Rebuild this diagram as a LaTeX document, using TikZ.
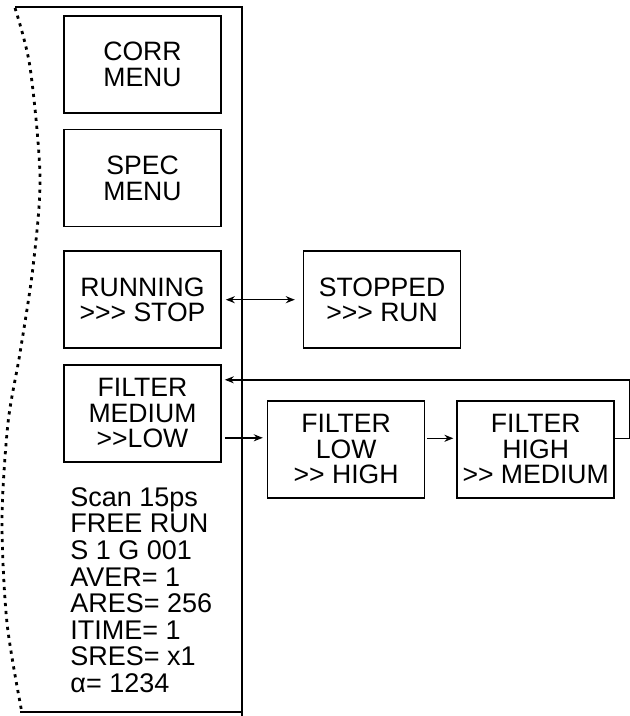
\documentclass[tikz,border=0pt]{standalone}
\usepackage{fontspec}
\setmainfont{Liberation Sans}[Ligatures=TeXOff]
\usetikzlibrary{arrows.meta,positioning,calc}

\begin{document}
\begin{tikzpicture}[
  x=0.5pt, y=-0.5pt,
  box/.style={rectangle, draw, line width=0.8pt, minimum width=78.5pt,
              minimum height=48.5pt, align=center, inner sep=1pt,
              font=\fontsize{13.3}{12.8}\selectfont},
  link/.style={line width=0.8pt},
  >={Stealth[length=4.5pt,width=3.5pt]}
]
  \useasboundingbox (0,0) rectangle (629,716);

  % torn left edge and frame of the screen
  \draw[line width=1.4pt, dash pattern=on 1.6pt off 2.4pt]
    plot[smooth] coordinates {(15,8) (30,67) (40,177) (33,267) (20,353)
                              (8,423) (2,520) (7,623) (22,713)};
  \draw[link] (15,7) -- (242,7) -- (242,716);
  \draw[link] (20,712) -- (242,712);

  \node[box] (corr) at (142.5,64.5) {CORR\\MENU};
  \node[box, below=7.5pt of corr] (spec) {SPEC\\MENU};
  \node[box, below=11.5pt of spec] (running) {RUNNING\\>>> STOP};
  \node[box, below=7.5pt of running] (fmed) {FILTER\\MEDIUM\\>>LOW};
  \node[box, right=40.5pt of running] (stopped) {STOPPED\\>>> RUN};
  \node[box, right=22.5pt of fmed, yshift=-18pt] (flow) {FILTER\\LOW\\>> HIGH};
  \node[box, right=15.5pt of flow] (fhigh) {FILTER\\HIGH\\>> MEDIUM};

  \node[anchor=north west, align=left, inner sep=0pt,
        font=\fontsize{13.5}{13.3}\selectfont] (params) at (70,487)
    {Scan 15ps\\FREE RUN\\S 1 G 001\\AVER= 1\\ARES= 256\\ITIME= 1\\SRES= x1\\α= 1234};

  \draw[link,<->, shorten <=2pt, shorten >=4pt] (running) -- (stopped);
  \draw[link,->, shorten <=1.5pt, shorten >=2pt]
    ([yshift=-12.25pt]fmed.east) -- ([yshift=-12.25pt]fmed.east -| flow.west);
  \draw[link,->, shorten <=1pt, shorten >=1.5pt]
    ([yshift=5.5pt]flow.east) -- ([yshift=5.5pt]flow.east -| fhigh.west);
  \draw[link,->, shorten >=1.5pt]
    ([yshift=5.5pt]fhigh.east) -- ++(7.5pt,0) |- ([yshift=16.75pt]fmed.east);
\end{tikzpicture}
\end{document}
